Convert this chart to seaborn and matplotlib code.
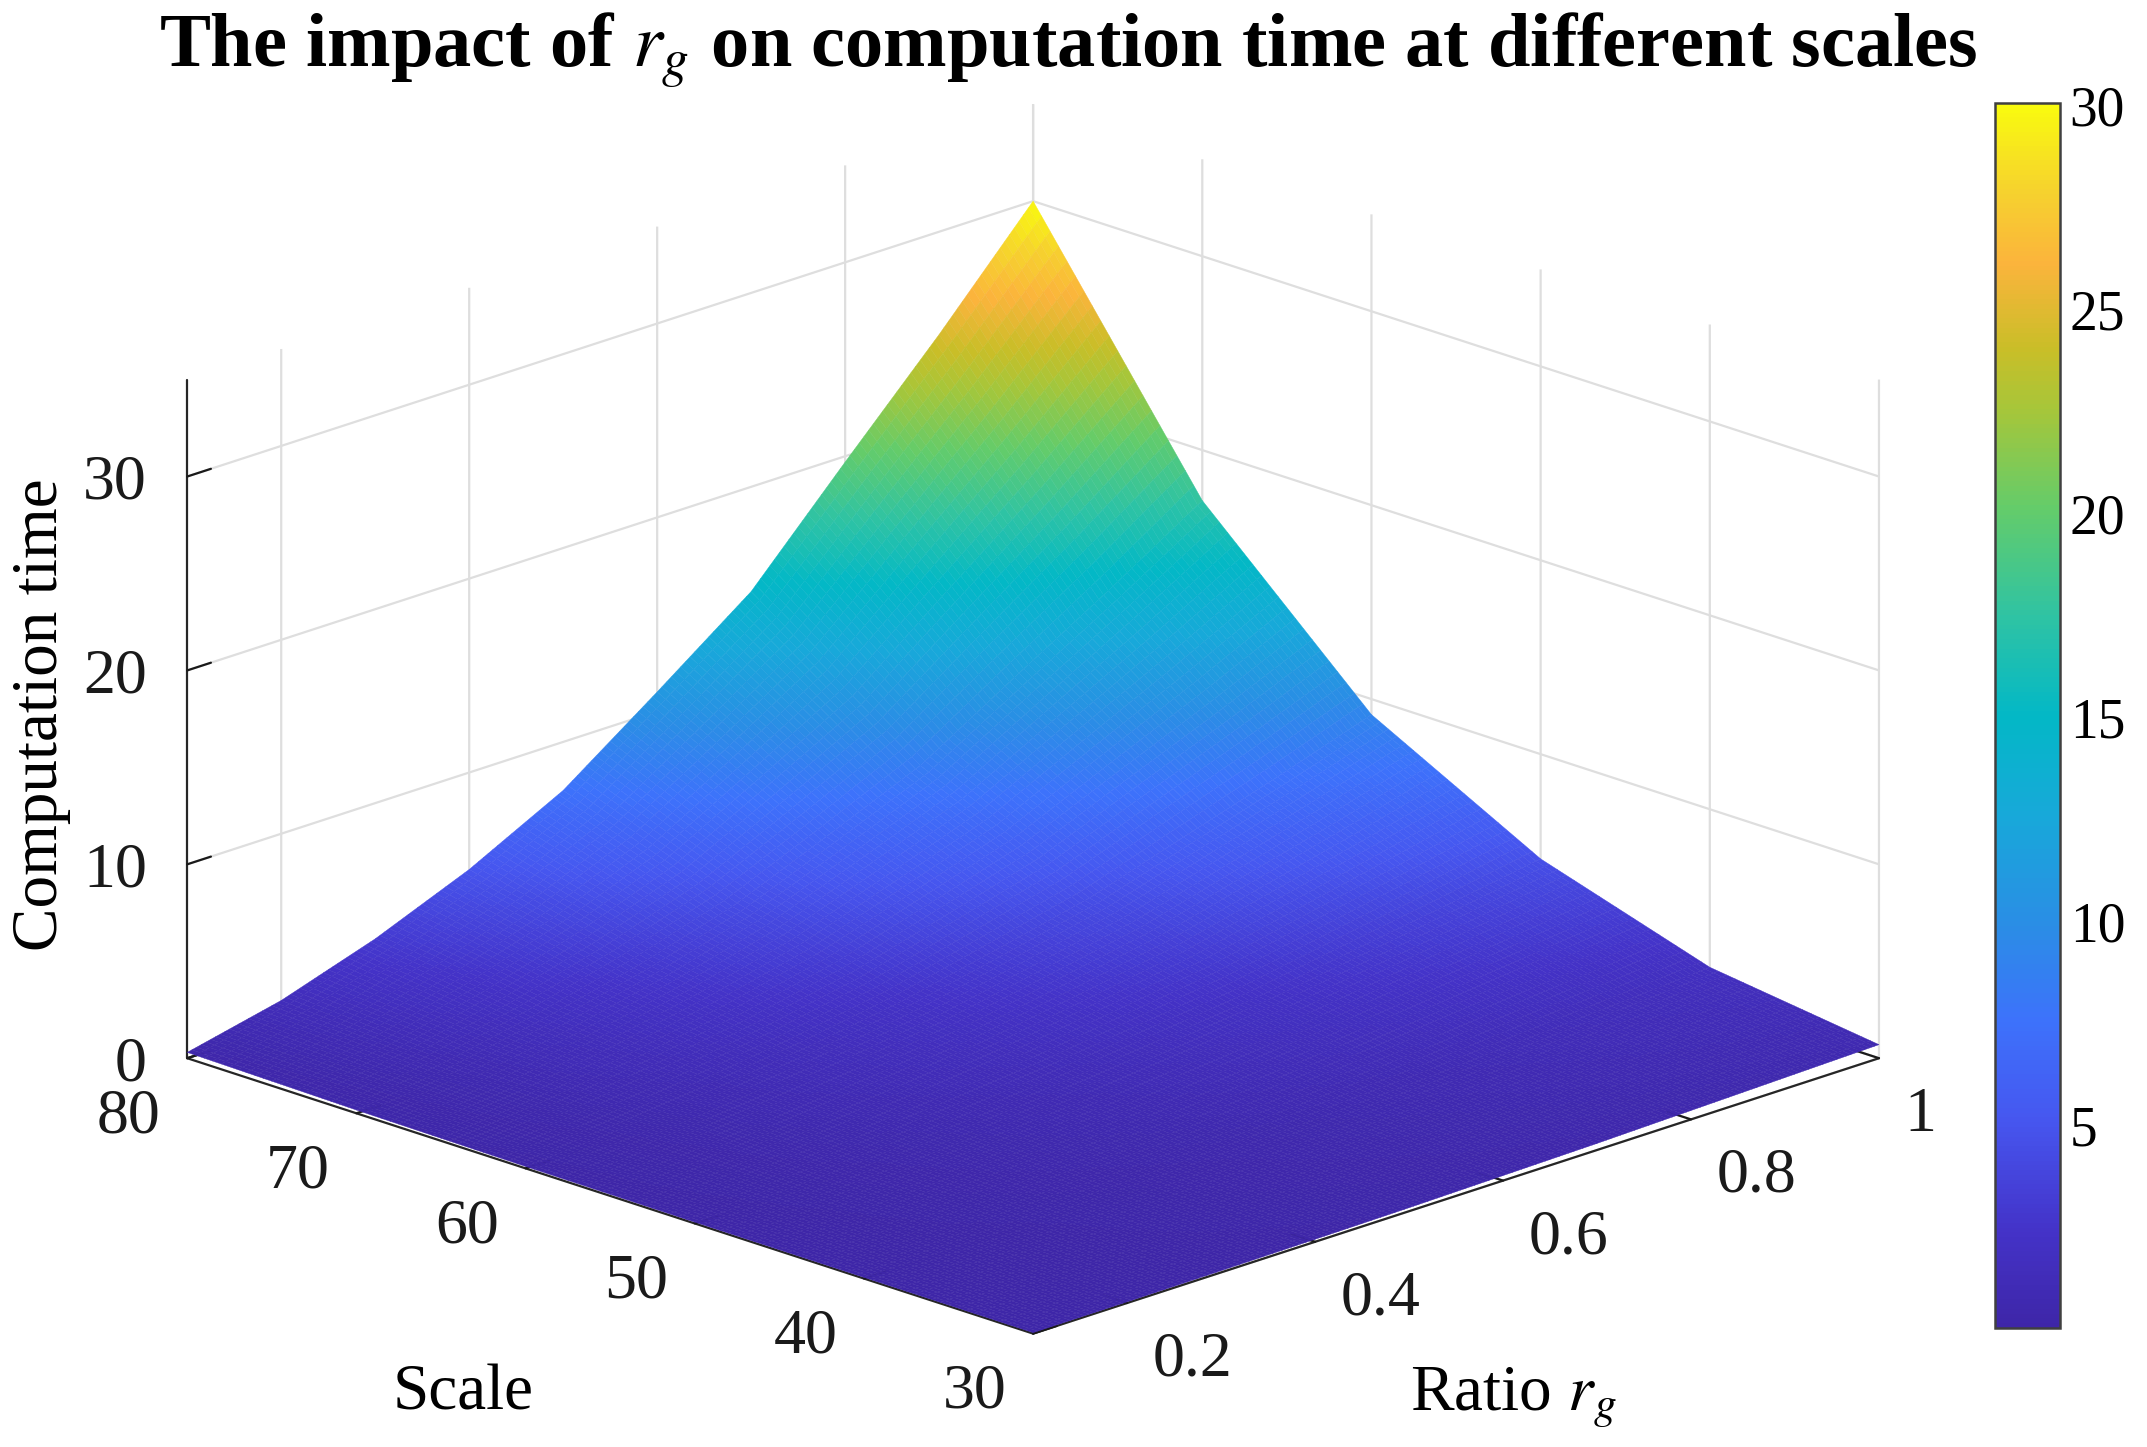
import numpy as np
import pandas as pd
import seaborn as sns
import matplotlib
matplotlib.use("Agg")
import matplotlib.pyplot as plt
from matplotlib.colors import LinearSegmentedColormap

# ---------------- data ----------------
ratio = [0.1, 0.2, 0.3, 0.4, 0.5, 0.6, 0.7, 0.8, 0.9, 1.0]
scale = [30, 40, 50, 60, 70, 80]
time_scale30 = [0.05, 0.06, 0.09, 0.13, 0.18, 0.26, 0.34, 0.46, 0.58, 0.70]
time_scale40 = [0.06, 0.10, 0.19, 0.31, 0.46, 0.68, 0.90, 1.22, 1.52, 1.85]
time_scale50 = [0.07, 0.22, 0.46, 0.77, 1.15, 1.69, 2.24, 3.02, 3.79, 4.60]
time_scale60 = [0.10, 0.43, 0.92, 1.53, 2.30, 3.37, 4.48, 6.04, 7.57, 9.20]
time_scale70 = [0.17, 0.81, 1.74, 2.90, 4.35, 6.38, 8.47, 11.43, 14.33, 17.40]
time_scale80 = [0.30, 1.40, 3.00, 5.00, 7.50, 11.00, 14.60, 19.70, 24.70, 30.00]
z_ticks = [0, 10, 20, 30]
ratio_ticks = [0.2, 0.4, 0.6, 0.8, 1.0]
ratio_tick_labels = ["0.2", "0.4", "0.6", "0.8", "1"]
scale_ticks = [30, 40, 50, 60, 70, 80]
cbar_ticks = [5, 10, 15, 20, 25, 30]

df = pd.DataFrame(
    [time_scale30, time_scale40, time_scale50, time_scale60, time_scale70, time_scale80],
    index=scale, columns=ratio)

# ---------------- style ----------------
sns.set_theme(style="white")
plt.rcParams["font.family"] = ["Liberation Serif", "DejaVu Serif"]
plt.rcParams["mathtext.fontset"] = "stix"
plt.rcParams["grid.color"] = "#dedede"
plt.rcParams["grid.linewidth"] = 1.6
plt.rcParams["axes.edgecolor"] = "#262626"
plt.rcParams["text.color"] = "black"
plt.rcParams["axes.labelcolor"] = "black"
plt.rcParams["xtick.color"] = "#1a1a1a"
plt.rcParams["ytick.color"] = "#1a1a1a"

parula = LinearSegmentedColormap.from_list("parula_like", [
    (0.00, "#3e26a8"), (0.08, "#4433c9"), (0.17, "#4657f0"), (0.25, "#3d72fb"),
    (0.33, "#2a8ee5"), (0.42, "#17a9d9"), (0.50, "#03b8c6"), (0.58, "#2ec3a4"),
    (0.67, "#64cc6a"), (0.75, "#a6c63a"), (0.80, "#c9be28"), (0.87, "#fbb43c"),
    (0.93, "#f6d22e"), (1.00, "#f9fb0e")])

vmin, vmax = 0.05, 30.05

# ---------------- figure ----------------
W, H = 2147, 1447
fig = plt.figure(figsize=(W / 100, H / 100), dpi=100)
side = 1784
cx, cy = 1009, 743
ax = fig.add_axes([(cx - side / 2) / W, (H - cy - side / 2) / H, side / W, side / H],
                  projection="3d")
ax.set_proj_type("ortho")
ax.view_init(elev=19.0, azim=-135)
ax.set_box_aspect((1, 1, 0.6), zoom=1.0)

# mesh refined only for smooth (interpolated) shading like MATLAB "shading interp"
def refine_1d(v, n):
    v = np.asarray(v, float)
    t = np.linspace(0, len(v) - 1, (len(v) - 1) * n + 1)
    return np.interp(t, np.arange(len(v)), v)

def refine_2d(Z, n):
    Z = np.asarray(Z, float)
    Z1 = np.array([refine_1d(row, n) for row in Z])
    return np.array([refine_1d(col, n) for col in Z1.T]).T

n = 20
Xf, Yf = np.meshgrid(refine_1d(df.columns.values, n), refine_1d(df.index.values, n))
Zf = refine_2d(df.values, n)
surf = ax.plot_surface(Xf, Yf, Zf, cmap=parula, vmin=vmin, vmax=vmax,
                       rcount=Zf.shape[0], ccount=Zf.shape[1],
                       linewidth=0.3, antialiased=True, shade=False)
surf.set_edgecolor("face")

ax.set_xlim(0.1, 1.0)
ax.set_ylim(30, 80)
ax.set_zlim(0, 35)
ax.set_xticks(ratio_ticks)
ax.set_xticklabels(ratio_tick_labels, fontsize=46, ha="left")
ax.set_yticks(scale_ticks)
ax.set_yticklabels([str(s) for s in scale_ticks], fontsize=46, ha="right")
ax.set_zticks(z_ticks)
ax.set_zticklabels([str(z) for z in z_ticks], fontsize=46, ha="right", va="center_baseline")
ax.tick_params(axis="x", pad=12)
ax.tick_params(axis="y", pad=13)
ax.tick_params(axis="z", pad=8)

for axis in (ax.xaxis, ax.yaxis, ax.zaxis):
    axis.pane.fill = False
    axis.pane.set_edgecolor("none")
    axis.line.set_color("#262626")
    axis.line.set_linewidth(1.6)
    axis._axinfo["tick"]["inward_factor"] = 0.0
    axis._axinfo["tick"]["outward_factor"] = 0.35
    axis._axinfo["tick"]["linewidth"] = {True: 1.6, False: 1.0}
    axis._axinfo["tick"]["color"] = "#262626"
ax.set_facecolor("none")
ax.grid(True)

fig.text(1068 / W, 1 - 50 / H, r"The impact of $r_g$ on computation time at different scales",
         ha="center", va="center", fontsize=55, fontweight="bold")
fig.text(41 / W, 1 - 715 / H, "Computation time", rotation=90, ha="center", va="center", fontsize=47)
fig.text(463 / W, 1 - 1394 / H, "Scale", ha="center", va="center", fontsize=47)
fig.text(1513 / W, 1 - 1398 / H, r"Ratio $r_g$", ha="center", va="center", fontsize=47)

cax = fig.add_axes([1995 / W, (H - 1328) / H, 65 / W, 1225 / H])
cb = fig.colorbar(surf, cax=cax, ticks=cbar_ticks)
cb.outline.set_edgecolor("#404040")
cb.outline.set_linewidth(1.8)
cax.tick_params(direction="in", length=12, width=1.5, labelsize=40, colors="#262626",
                labelcolor="black", pad=7)

fig.savefig("out.png", dpi=100)
